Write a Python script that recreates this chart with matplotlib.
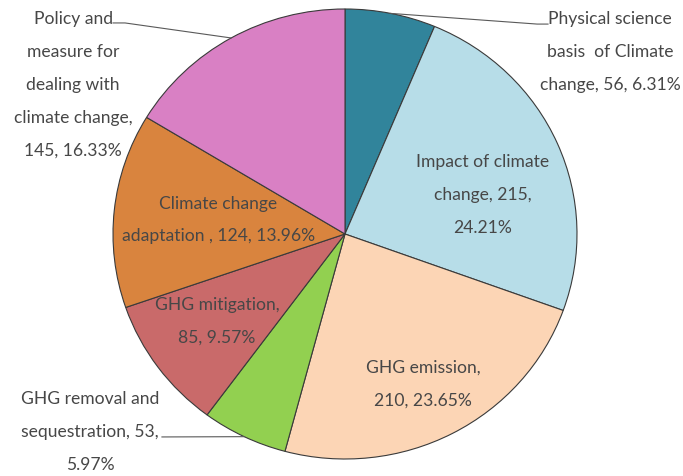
import numpy as np
import matplotlib.pyplot as plt

# data
categories = ['Physical science\nbasis  of Climate\nchange',
              'Impact of climate\nchange',
              'GHG emission',
              'GHG removal and\nsequestration',
              'GHG mitigation',
              'Climate change\nadaptation ',
              'Policy and\nmeasure for\ndealing with\nclimate change']
counts = [56, 215, 210, 53, 85, 124, 145]
percents = [6.31, 24.21, 23.65, 5.97, 9.57, 13.96, 16.33]
colors = ['#31849b', '#b7dde8', '#fcd5b5', '#92d050', '#c96a6a', '#d9843e', '#d980c4']

label_texts = [
    'Physical science\nbasis  of Climate\nchange, 56, 6.31%',
    'Impact of climate\nchange, 215,\n24.21%',
    'GHG emission,\n210, 23.65%',
    'GHG removal and\nsequestration, 53,\n5.97%',
    'GHG mitigation,\n85, 9.57%',
    'Climate change\nadaptation , 124, 13.96%',
    'Policy and\nmeasure for\ndealing with\nclimate change,\n145, 16.33%',
]
# label centres in axes data units (pie radius = 1)
label_pos = [(1.142, 0.81), (0.595, 0.173), (0.336, -0.667), (-1.099, -0.88),
             (-0.552, -0.387), (-0.547, 0.062), (-1.172, 0.662)]
# text-side end of leader lines
leader_start = {0: [(0.875, 0.933), (0.828, 0.933)],
                3: [(-0.789, -0.902)],
                6: [(-1.0, 0.938), (-0.948, 0.938)]}

plt.rcParams['font.family'] = ['Lato', 'DejaVu Sans']
text_color = '#474747'

W, H = 683, 476
fig = plt.figure(figsize=(W / 100, H / 100), dpi=100)
# pie spans x 113..577, y 9..459 px
ax = fig.add_axes([113 / W, (H - 459) / H, 464 / W, 450 / H])

wedges, _ = ax.pie(counts, colors=colors, startangle=90, counterclock=False,
                   radius=1, wedgeprops=dict(edgecolor='#3a3a3a', linewidth=0.8))
ax.set_aspect('auto')
ax.set_xlim(-1, 1)
ax.set_ylim(-1, 1)
ax.axis('off')

for i, (txt, (x, y)) in enumerate(zip(label_texts, label_pos)):
    ax.text(x, y, txt, ha='center', va='center', fontsize=12.6,
            color=text_color, linespacing=2.3, clip_on=False)
    if i in leader_start:
        w = wedges[i]
        mid = np.deg2rad((w.theta1 + w.theta2) / 2)
        pts = leader_start[i] + [(np.cos(mid), np.sin(mid))]
        xs, ys = zip(*pts)
        ax.plot(xs, ys, color='#595959', lw=0.8, clip_on=False)

fig.savefig('out.png', dpi=100)
